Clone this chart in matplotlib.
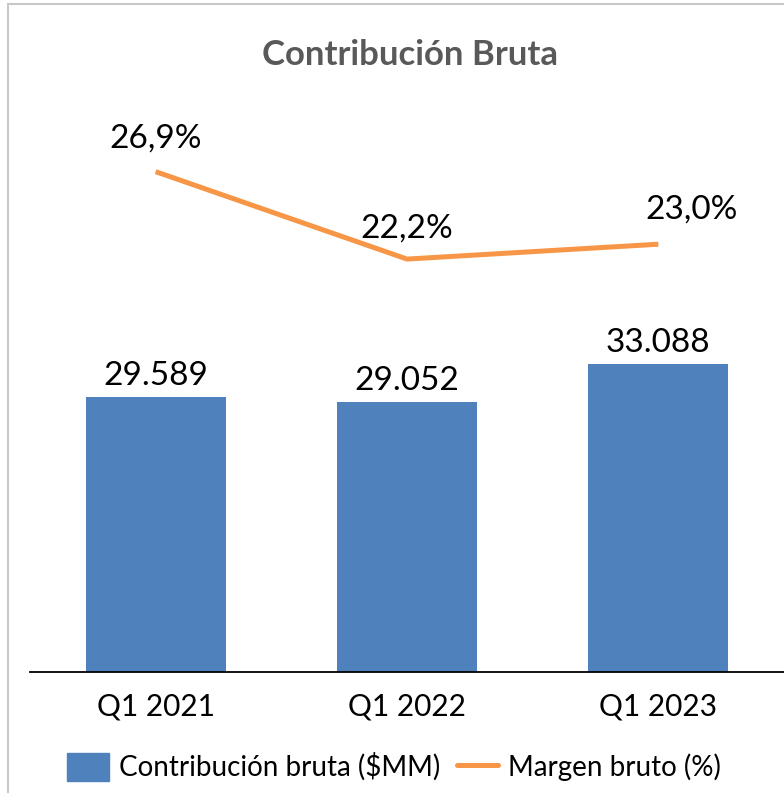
import matplotlib.pyplot as plt
from matplotlib.patches import Rectangle
from matplotlib.lines import Line2D

# datos
categorias = ['Q1 2021', 'Q1 2022', 'Q1 2023']
contribucion = [29589, 29052, 33088]
margen = [26.9, 22.2, 23.0]
etiquetas_contrib = ['29.589', '29.052', '33.088']
etiquetas_margen = ['26,9%', '22,2%', '23,0%']

azul = '#4F81BD'
naranja = '#F79646'
plt.rcParams['font.family'] = ['Lato', 'DejaVu Sans']

W, H = 784, 793
fig = plt.figure(figsize=(W / 100, H / 100), dpi=100)
ax = fig.add_axes([30 / W, 1 - 672 / H, 1 - 30 / W, (672 - 114) / H])
ax2 = ax.twinx()

x = list(range(len(categorias)))
ax.bar(x, contribucion, width=0.556, color=azul, zorder=2)
ax.set_ylim(0, 60000)
ax.set_xlim(-0.5, 2.5)
for xi, v, t in zip(x, contribucion, etiquetas_contrib):
    ax.annotate(t, (xi, v), xytext=(0, 6), textcoords='offset pixels',
                ha='center', va='bottom', fontsize=24, color='black')

ax2.plot(x, margen, color=naranja, linewidth=3.6, solid_capstyle='butt', zorder=3)
ax2.set_ylim(0, 30)
offs = [(0, 18), (0, 16), (33, 20)]
for xi, v, t, o in zip(x, margen, etiquetas_margen, offs):
    ax2.annotate(t, (xi, v), xytext=o, textcoords='offset pixels',
                 ha='center', va='bottom', fontsize=24, color='black')

for a in (ax, ax2):
    for s in ['top', 'right', 'left']:
        a.spines[s].set_visible(False)
    a.set_yticks([])
ax.spines['bottom'].set_linewidth(1.3)
ax2.spines['bottom'].set_visible(False)
ax.set_xticks(x)
ax.set_xticklabels(categorias, fontsize=21.5)
ax.tick_params(axis='x', length=0, pad=15)

fig.text(410 / W, 1 - 55 / H, 'Contribución Bruta', ha='center', va='center',
         fontsize=25, fontweight='bold', color='#595959')

handles = [Rectangle((0, 0), 1, 1, color=azul),
           Line2D([0], [0], color=naranja, linewidth=3.6, solid_capstyle='round')]
fig.legend(handles, ['Contribución bruta ($MM)', 'Margen bruto (%)'],
           loc='center', bbox_to_anchor=(394 / W, 1 - 767 / H), ncol=2,
           frameon=False, fontsize=20, handlelength=1.5, handleheight=1.15,
           columnspacing=0.6, handletextpad=0.36, borderpad=0, borderaxespad=0)

# marco gris
fig.add_artist(Rectangle((7.5 / W, -0.1), 1.2, 1 - 4.5 / H + 0.1, fill=False,
                         edgecolor='#c8c8c8', linewidth=1.5,
                         transform=fig.transFigure))

fig.savefig('out.png', dpi=100)
